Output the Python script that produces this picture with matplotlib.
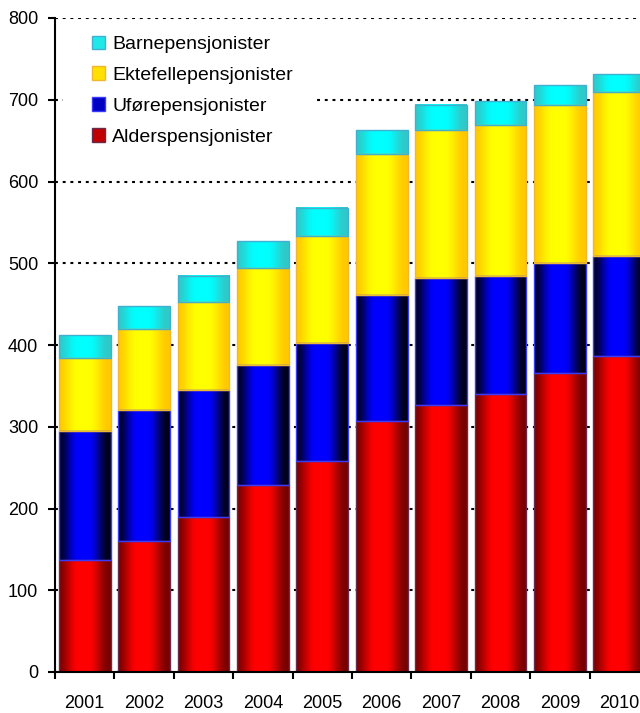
import numpy as np
import matplotlib
matplotlib.use("Agg")
import matplotlib.pyplot as plt
from matplotlib.colors import to_rgb
from matplotlib.patches import Patch, Rectangle

years = ["2001", "2002", "2003", "2004", "2005", "2006", "2007", "2008", "2009", "2010"]
alders = [137, 160, 190, 229, 258, 307, 326, 340, 366, 386]
ufore = [158, 160, 155, 146, 145, 154, 156, 144, 134, 123]
ektefelle = [89, 100, 107, 119, 130, 173, 181, 185, 194, 201]
barne = [28, 28, 32, 33, 35, 29, 31, 29, 24, 22]

series = [
    ("Alderspensjonister", alders, "#780000", "#ff0000", "#6a2a4a", "#c00000"),
    ("Uførepensjonister", ufore, "#000018", "#0000ff", "#3a3aff", "#0000c0"),
    ("Ektefellepensjonister", ektefelle, "#ffc800", "#ffff00", "#f0b830", "#ffe000"),
    ("Barnepensjonister", barne, "#30c8c8", "#00ffff", "#40b0d0", "#20e8e8"),
]

plt.rcParams["font.family"] = ["Liberation Sans", "DejaVu Sans"]
fig = plt.figure(figsize=(6.4, 7.13), dpi=100)
ax = fig.add_axes([55 / 640, 41 / 713, 594 / 640, 654 / 713])

x = np.arange(len(years))
width = 0.875
u = np.linspace(0, 1, 200)
d = np.abs(u - 0.47)
f = np.clip(1 - (d - 0.1) / 0.4, 0, 1)
f = f * f * (3 - 2 * f)

bottom = np.zeros(len(years))
handles = []
for name, vals, edge, center, line, mid in series:
    vals = np.array(vals, dtype=float)
    bars = ax.bar(x, vals, width, bottom=bottom, facecolor="none",
                  edgecolor=line, linewidth=1.0, zorder=4)
    e = np.array(to_rgb(edge))
    c = np.array(to_rgb(center))
    grad = (e[None, :] + (c - e)[None, :] * f[:, None])[None, :, :]
    for p in bars.patches:
        x0, y0 = p.get_x(), p.get_y()
        ax.imshow(grad, extent=[x0, x0 + p.get_width(), y0, y0 + p.get_height()],
                  aspect="auto", interpolation="bilinear", zorder=3)
    bottom = bottom + vals
    handles.append(Patch(facecolor=mid, edgecolor=line, label=name))

ax.set_xlim(-0.5, len(years) - 0.5)
ax.set_ylim(0, 800)
ax.set_yticks(np.arange(0, 801, 100))
ax.set_xticks(np.arange(len(years) + 1) - 0.5)
ax.set_xticklabels([])
ax.set_xticks(x, minor=True)
ax.set_xticklabels(years, minor=True)
ax.tick_params(axis="x", which="minor", length=0, pad=16.5, labelsize=13)
ax.tick_params(axis="x", which="major", length=5, width=1.5, direction="out")
ax.tick_params(axis="y", length=5, width=1.5, pad=7, labelsize=13)

for s in ["top", "right"]:
    ax.spines[s].set_visible(False)
for s in ["left", "bottom"]:
    ax.spines[s].set_linewidth(1.5)
    ax.spines[s].set_zorder(6)

ax.yaxis.grid(True, color="black", linewidth=1.5, linestyle=(0, (1.4, 2.3)), zorder=1)
ax.set_axisbelow(True)

# white backing of the legend area (hides the gridline behind the legend)
ax.add_patch(Rectangle((63 / 640, 1 - 112 / 713), 253 / 640, 24 / 713,
                       transform=fig.transFigure, facecolor="white",
                       edgecolor="none", zorder=1.5, clip_on=False))

leg = ax.legend(handles[::-1], [h.get_label() for h in handles[::-1]],
                loc="upper left", bbox_to_anchor=(92 / 640, 1 - 35.5 / 713),
                bbox_transform=fig.transFigure, fontsize=14, frameon=False,
                handlelength=0.68, handleheight=0.68, handletextpad=0.36,
                labelspacing=0.69, borderpad=0, borderaxespad=0)
leg.set_zorder(10)

fig.savefig("out.png", dpi=100)
